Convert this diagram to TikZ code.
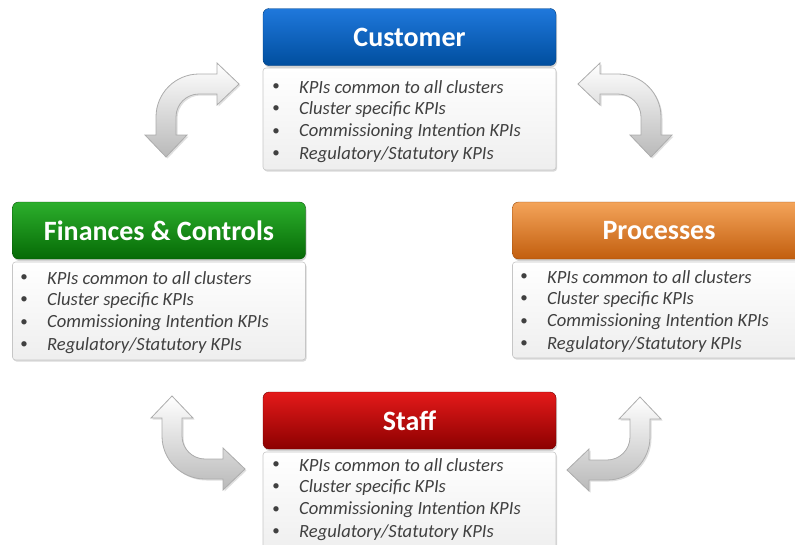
\documentclass[tikz,border=0pt]{standalone}
\usepackage{fontspec}
\setmainfont{Carlito}
\usetikzlibrary{shadows}
\definecolor{blueT}{HTML}{1F78DC}
\definecolor{blueB}{HTML}{004E9E}
\definecolor{greenT}{HTML}{2CAF2C}
\definecolor{greenB}{HTML}{066A06}
\definecolor{orangeT}{HTML}{F4A45A}
\definecolor{orangeB}{HTML}{C25E0E}
\definecolor{redT}{HTML}{E41A1A}
\definecolor{redB}{HTML}{8C0000}
\definecolor{txtgray}{HTML}{404040}
\newcommand\kpilines[3]{%
  \foreach \t [count=\i] in {KPIs common to all clusters,Cluster specific KPIs,Commissioning Intention KPIs,Regulatory/Statutory KPIs}{%
    \node[bul] (#1b\i) at (#2,{#3+(\i-1)*22.4}) {•};
    \node[kpi] (#1t\i) at ({#2+23},{#3+(\i-1)*22.4}) {\t};
  }%
}
\newcommand\bentarrow[1]{%
  \begin{scope}[#1]
    \shade[arrowsty] (73,0) -- (51,-21) -- (51,-10) -- (33,-10)
      .. controls (9.25,-10) and (-10,9.25) .. (-10,33)
      -- (-10,51) -- (-21,51) -- (0,73) -- (21,51) -- (10,51) -- (10,33)
      .. controls (10,20.3) and (20.3,10) .. (33,10)
      -- (51,10) -- (51,21) -- cycle;
  \end{scope}%
}
\tikzset{
  hdr/.style={rounded corners=6pt, minimum width=293pt, minimum height=57pt,
    inner sep=0pt, text=white, font=\fontsize{28}{32}\selectfont\bfseries,
    drop shadow={opacity=0.35, shadow xshift=1pt, shadow yshift=-2pt}},
  bodybox/.style={rounded corners=3pt, draw=gray!45, line width=0.6pt,
    top color=white, bottom color=gray!13, minimum width=293pt, inner sep=0pt,
    drop shadow={opacity=0.3, shadow xshift=1pt, shadow yshift=-1.5pt}},
  bul/.style={inner sep=0pt, text=txtgray, font=\fontsize{15}{17}\selectfont},
  kpi/.style={anchor=west, inner sep=0pt, text=txtgray, font=\fontsize{18.6}{21}\selectfont\itshape},
  arrowsty/.style={draw=gray!65, line width=0.8pt, top color=white, bottom color=gray!55,
    drop shadow={opacity=0.25, shadow xshift=1.5pt, shadow yshift=-1.5pt}}
}
\begin{document}
\begin{tikzpicture}[x=1pt,y=-1pt]
\useasboundingbox (0,0) rectangle (795,544);
% arrows
\bentarrow{shift={(166,84)}}
\bentarrow{shift={(651,84)},xscale=-1}
\bentarrow{shift={(172,469)},yscale=-1}
\bentarrow{shift={(640,470)},xscale=-1,yscale=-1}
% Customer
\node[bodybox, minimum height=102pt] (custbody) at (409.5,119) {};
\node[hdr, top color=blueT, bottom color=blueB, draw=blueB!80!black, line width=0.4pt] (cust) at (409.5,37) {Customer};
\kpilines{cust}{276}{87}
% Finances
\node[bodybox, minimum height=98pt] (finbody) at (159,311) {};
\node[hdr, top color=greenT, bottom color=greenB, draw=greenB!80!black, line width=0.4pt] (fin) at (159,230.5) {Finances \& Controls};
\kpilines{fin}{24}{278}
% Processes
\node[bodybox, minimum height=96pt] (procbody) at (659,310) {};
\node[hdr, top color=orangeT, bottom color=orangeB, draw=orangeB!80!black, line width=0.4pt] (proc) at (659,230.5) {Processes};
\kpilines{proc}{524}{277}
% Staff
\node[bodybox, minimum height=100pt] (staffbody) at (409.5,502) {};
\node[hdr, top color=redT, bottom color=redB, draw=redB!80!black, line width=0.4pt] (staff) at (409.5,420.5) {Staff};
\kpilines{staff}{276}{465}
\end{tikzpicture}
\end{document}
